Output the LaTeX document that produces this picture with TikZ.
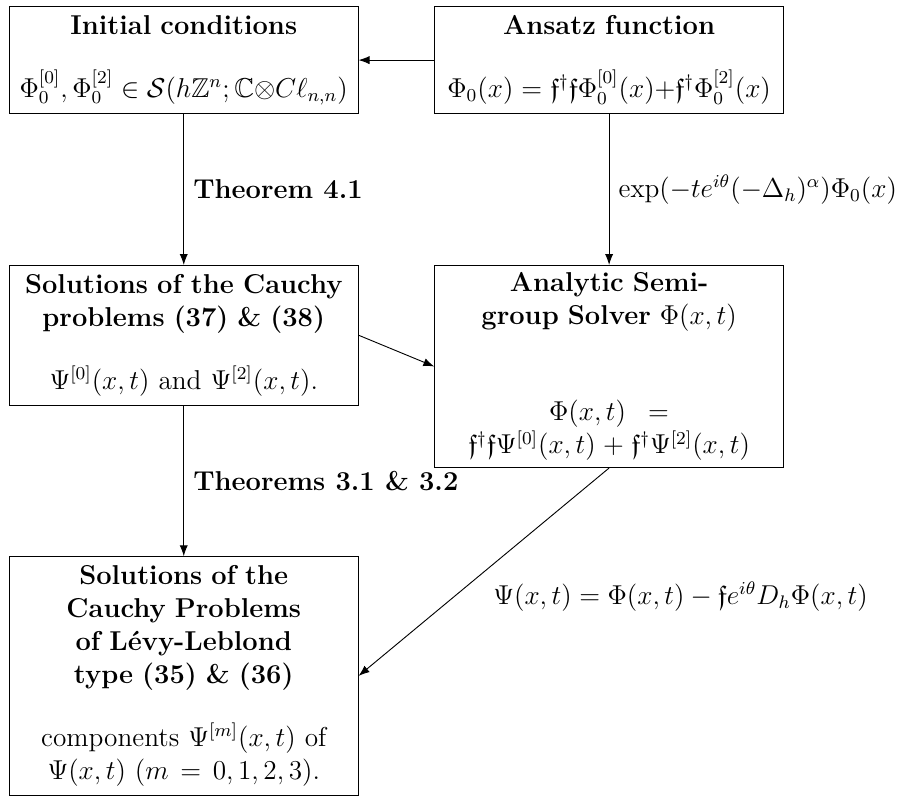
\documentclass[tikz,border=0pt,12pt]{standalone}
\usepackage{amsmath,amssymb}
\usetikzlibrary{arrows.meta,positioning,calc}

\begin{document}
\begin{tikzpicture}[>=Latex,
  box/.style={draw,text width=5.11cm,align=center,inner sep=4pt},
  lbl/.style={font=\bfseries}]
\node[box,minimum height=1.66cm] (ini) {\textbf{Initial conditions}\\[13pt]
  $\Phi_0^{[0]},\Phi_0^{[2]}\in\mathcal{S}(h\mathbb{Z}^n;\mathbb{C}{\otimes}C\ell_{n,n})$};
\node[box,minimum height=1.66cm,right=1.17cm of ini] (ans) {\textbf{Ansatz function}\\[13pt]
  $\Phi_0(x)=\mathfrak{f}^\dagger\mathfrak{f}\Phi_0^{[0]}(x){+}\mathfrak{f}^\dagger\Phi_0^{[2]}(x)$};
\node[box,minimum height=2.13cm,below=2.33cm of ini] (sol) {\textbf{Solutions of the Cauchy}\\
  \textbf{problems (37) \& (38)}\\[13pt]
  $\Psi^{[0]}(x,t)$ and $\Psi^{[2]}(x,t)$.};
\node[box,minimum height=3.10cm,inner ysep=3pt,below=2.33cm of ans] (sgs) {\textbf{Analytic Semi-}\\
  \textbf{group Solver $\Phi(x,t)$}\\[28pt]
  $\Phi(x,t) =$\\
  $\mathfrak{f}^\dagger\mathfrak{f}\Psi^{[0]}(x,t)+\mathfrak{f}^\dagger\Psi^{[2]}(x,t)$};
\node[box,minimum height=3.59cm,below=2.33cm of sol] (lev) {\textbf{Solutions of the}\\
  \textbf{Cauchy Problems}\\ \textbf{of L\'evy-Leblond}\\ \textbf{type (35) \& (36)}\\[13pt]
  components $\Psi^{[m]}(x,t)$ of\\
  $\Psi(x,t)$ $(m = 0,1,2,3)$.};
% arrows
\draw[->] (ans) -- (ini);
\draw[->] (ini) -- node[lbl,right] {Theorem 4.1} (sol);
\draw[->] (ans) -- node[right] {$\exp(-te^{i\theta}(-\Delta_h)^\alpha)\Phi_0(x)$} (sgs);
\draw[->] (sol.east) -- (sgs.west);
\draw[->] (sol) -- node[lbl,right] {Theorems 3.1 \& 3.2} (lev);
\draw[->] (sgs.south) -- node[below right] {$\Psi(x,t)=\Phi(x,t)-\mathfrak{f}e^{i\theta}D_h\Phi(x,t)$} (lev.east);
\useasboundingbox ($(ini.north west)+(-0.138,0.092)$) rectangle ++(13.91,-12.14);
\end{tikzpicture}
\end{document}
